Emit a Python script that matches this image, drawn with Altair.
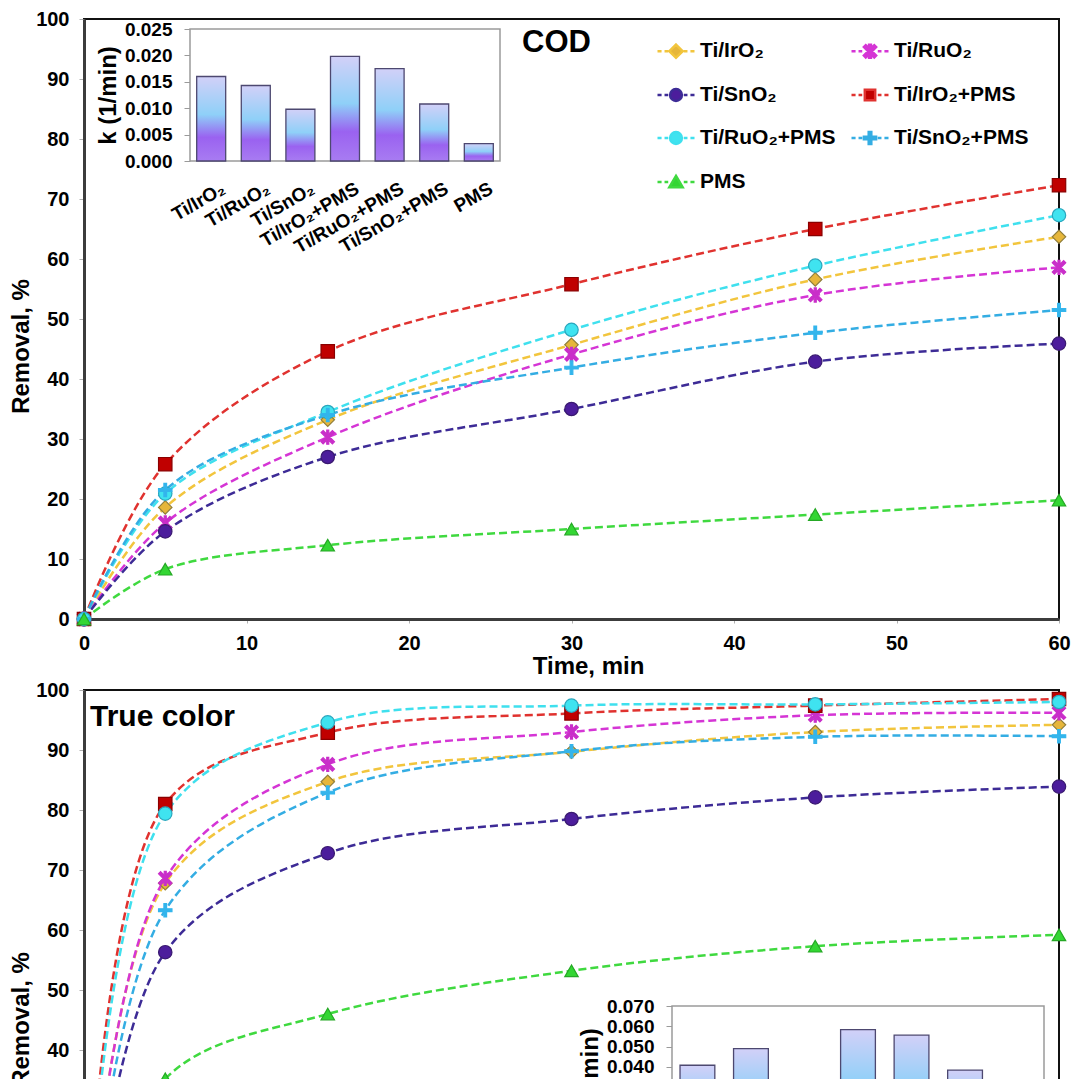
import altair as alt
import pandas as pd

FONT = "Liberation Sans"

times = [0, 5, 15, 30, 45, 60]
series_names = ["Ti/IrO₂", "Ti/RuO₂", "Ti/SnO₂", "Ti/IrO₂+PMS",
                "Ti/RuO₂+PMS", "Ti/SnO₂+PMS", "PMS"]

# COD removal, %
cod_iro2 = [0, 18.6, 33.2, 45.7, 56.6, 63.7]
cod_ruo2 = [0, 16.0, 30.3, 44.1, 54.0, 58.6]
cod_sno2 = [0, 14.6, 27.0, 35.0, 42.9, 45.9]
cod_iro2_pms = [0, 25.8, 44.6, 55.8, 65.0, 72.3]
cod_ruo2_pms = [0, 20.9, 34.5, 48.2, 58.9, 67.3]
cod_sno2_pms = [0, 21.5, 34.0, 41.9, 47.7, 51.5]
cod_pms = [0, 8.3, 12.3, 15.0, 17.4, 19.8]

# True colour removal, %
tc_iro2 = [0, 67.8, 84.7, 89.7, 93.0, 94.2]
tc_ruo2 = [0, 68.6, 87.6, 93.0, 95.8, 96.2]
tc_sno2 = [0, 56.3, 72.8, 78.5, 82.1, 83.9]
tc_iro2_pms = [0, 81.0, 92.9, 96.1, 97.4, 98.5]
tc_ruo2_pms = [0, 79.4, 94.6, 97.4, 97.6, 98.0]
tc_sno2_pms = [0, 63.3, 82.9, 89.8, 92.2, 92.3]
tc_pms = [0, 35.2, 46.0, 53.2, 57.3, 59.2]

# rate constants k (1/min)
k_cod = [0.0160, 0.0143, 0.0098, 0.0198, 0.0175, 0.0108, 0.0033]
k_color = [0.0408, 0.0490, 0.0260, 0.0584, 0.0556, 0.0384, 0.0090]

line_colors = ["#f2c53d", "#d535d5", "#3d2b96", "#e0322f", "#3fe0ee", "#34ade3", "#3fd93f"]
marker_fill = ["#e6b63a", "#c92ec9", "#4c1d9c", "#c00000", "#3fe3f0", "#33b5ec", "#33d633"]
marker_edge = ["#8f7d3a", "#c92ec9", "#3a1a70", "#8a0000", "#2aa6bd", "#33b5ec", "#25a825"]

plot_shapes = [
    "M0,-1L1,0L0,1L-1,0Z",
    "M-0.69,-1L1,0.69L0.69,1L-1,-0.69ZM1,-0.69L-0.69,1L-1,0.69L0.69,-1ZM-0.15,-1.05H0.15V1.05H-0.15Z",
    "circle",
    "square",
    "circle",
    "M-0.2,-1H0.2V-0.2H1V0.2H0.2V1H-0.2V0.2H-1V-0.2H-0.2Z",
    "triangle-up",
]
DASH = "M-1,0H-0.78M-0.62,0H-0.42M0.42,0H0.62M0.78,0H1"
legend_shapes = [
    DASH + "M0,-0.36L0.36,0L0,0.36L-0.36,0Z",
    DASH + "M-0.23,-0.33L0.33,0.23L0.23,0.33L-0.33,-0.23ZM0.33,-0.23L-0.23,0.33L-0.33,0.23L0.23,-0.33ZM-0.05,-0.35H0.05V0.35H-0.05Z",
    DASH + "M-0.32,0A0.32,0.32,0,1,0,0.32,0A0.32,0.32,0,1,0,-0.32,0Z",
    DASH + "M-0.28,-0.28H0.28V0.28H-0.28Z",
    DASH + "M-0.32,0A0.32,0.32,0,1,0,0.32,0A0.32,0.32,0,1,0,-0.32,0Z",
    DASH + "M-0.07,-0.33H0.07V-0.07H0.33V0.07H0.07V0.33H-0.07V0.07H-0.33V-0.07H-0.07Z",
    DASH + "M0,-0.33L0.36,0.28H-0.36Z",
]
# legend fills column by column: reorder so it reads row by row as in the figure
legend_order = [0, 2, 4, 6, 1, 3, 5]

bar_gradient = alt.Gradient(
    gradient="linear",
    stops=[alt.GradientStop(color="#d2d0f8", offset=0),
           alt.GradientStop(color="#8fd0f8", offset=0.45),
           alt.GradientStop(color="#9a62f0", offset=0.72),
           alt.GradientStop(color="#a87cf2", offset=1)],
    x1=0, x2=0, y1=0, y2=1,
)


def long_df(lists):
    rows = []
    for name, vals in zip(series_names, lists):
        for t, v in zip(times, vals):
            rows.append({"series": name, "time": t, "removal": v})
    return pd.DataFrame(rows)


def pick(seq):
    return [seq[i] for i in legend_order]


def panel(df, kvals, W, H, ytitle_pos, label, label_pos, label_size,
          inset, k_max, k_step, show_legend):
    xs = alt.Scale(domain=[0, 60], nice=False)
    ys = alt.Scale(domain=[0, 100], nice=False)
    xaxis = alt.Axis(values=[0, 10, 20, 30, 40, 50, 60], title="Time, min",
                     titleFontSize=24, titleX=W * 0.517, titleY=47, titleBaseline="middle",
                     labelFontSize=20, labelPadding=10, tickSize=4, tickColor="#b0b0b0",
                     domainColor="#3c3c3c", domainWidth=3, labelFlush=False)
    yaxis = alt.Axis(values=list(range(0, 101, 10)), title="Removal, %",
                     titleFontSize=24, titleY=ytitle_pos, titlePadding=2,
                     labelFontSize=20, labelPadding=10, tickSize=5, tickColor="#b0b0b0",
                     domainColor="#3c3c3c", domainWidth=3)
    base = alt.Chart(df)
    lines = base.mark_line(interpolate="catmull-rom", strokeDash=[8, 4], strokeWidth=2.5).encode(
        x=alt.X("time:Q", scale=xs, axis=xaxis),
        y=alt.Y("removal:Q", scale=ys, axis=yaxis),
        color=alt.Color("series:N", scale=alt.Scale(domain=series_names, range=line_colors), legend=None),
        detail="series:N",
    )
    points = base.mark_point(filled=True, size=180, strokeWidth=1.2, opacity=1).encode(
        x=alt.X("time:Q", scale=xs),
        y=alt.Y("removal:Q", scale=ys),
        color=alt.Color("series:N", scale=alt.Scale(domain=series_names, range=marker_fill), legend=None),
        stroke=alt.Stroke("series:N", scale=alt.Scale(domain=series_names, range=marker_edge), legend=None),
        shape=alt.Shape("series:N", scale=alt.Scale(domain=series_names, range=plot_shapes), legend=None),
    )
    layers = [lines, points]
    if show_legend:
        leg = alt.Legend(title=None, orient="none", legendX=572, legendY=12, columns=2,
                         columnPadding=10, rowPadding=12, symbolSize=1369, padding=0,
                         labelFont=FONT, labelFontWeight="bold", labelFontSize=21,
                         labelColor="#000", labelOffset=4, symbolStrokeWidth=2.5,
                         labelLimit=300)
        dom = pick(series_names)
        legend_layer = base.transform_filter("false").mark_point(filled=True, opacity=1).encode(
            x=alt.X("time:Q", scale=xs),
            y=alt.Y("removal:Q", scale=ys),
            color=alt.Color("series:N", scale=alt.Scale(domain=dom, range=pick(marker_fill)), legend=leg),
            stroke=alt.Stroke("series:N", scale=alt.Scale(domain=dom, range=pick(line_colors)), legend=leg),
            shape=alt.Shape("series:N", scale=alt.Scale(domain=dom, range=pick(legend_shapes)), legend=leg),
        )
        layers.append(legend_layer)
    main = alt.layer(*layers).resolve_scale(color="independent", stroke="independent",
                                            shape="independent")

    text = alt.Chart(pd.DataFrame({"label": [label]})).mark_text(
        font=FONT, fontWeight="bold", fontSize=label_size, align="left", baseline="middle",
        color="#000").encode(text="label:N", x=alt.value(label_pos[0]), y=alt.value(label_pos[1]))

    x0, x1, y0, y1 = inset
    frame = alt.Chart(pd.DataFrame({"a": [0]})).mark_rect(
        fill="white", stroke="#9a9a9a", strokeWidth=1.5).encode(
        x=alt.value(x0), x2=alt.value(x1), y=alt.value(y0), y2=alt.value(y1))

    kdf = pd.DataFrame({"electrode": series_names, "k": kvals})
    nt = int(round(k_max / k_step))
    bars = alt.Chart(kdf).mark_bar(fill=bar_gradient, stroke="#4d4870", strokeWidth=1.3).encode(
        x=alt.X("electrode:N", sort=series_names,
                scale=alt.Scale(range=[x0, x1], paddingInner=0.35, paddingOuter=0.15),
                axis=alt.Axis(orient="bottom", offset=-(H - y1), title=None, labelAngle=330,
                              labelFontSize=19, labelPadding=18, labelOffset=8, ticks=False,
                              domain=False, labelLimit=300)),
        y=alt.Y("k:Q", scale=alt.Scale(domain=[0, k_max], range=[y1, y0], nice=False),
                axis=alt.Axis(orient="left", offset=-x0, title="k (1/min)", format=".3f",
                              values=[round(i * k_step, 4) for i in range(nt + 1)],
                              titleFontSize=24, labelFontSize=19, labelPadding=12,
                              tickSize=6, tickColor="#9a9a9a", domain=False, titlePadding=4)),
    )
    return alt.layer(main, frame, bars, text).resolve_scale(
        x="independent", y="independent").properties(width=W, height=H)


top = panel(long_df([cod_iro2, cod_ruo2, cod_sno2, cod_iro2_pms, cod_ruo2_pms, cod_sno2_pms, cod_pms]),
            k_cod, 975, 600, 327, "COD", (438, 24), 31,
            (106, 416, 10, 142), 0.025, 0.005, True)
bottom = panel(long_df([tc_iro2, tc_ruo2, tc_sno2, tc_iro2_pms, tc_ruo2_pms, tc_sno2_pms, tc_pms]),
               k_color, 975, 600, 329, "True color", (6, 27), 30,
               (588, 960, 316, 458), 0.07, 0.01, False)

chart = alt.vconcat(top, bottom, spacing=0).properties(
    padding={"left": 0, "top": 0, "right": 0, "bottom": 0}
).configure(font=FONT).configure_view(stroke="#111", strokeWidth=2).configure_axis(
    grid=False, labelColor="#000", titleColor="#000", labelFont=FONT, titleFont=FONT,
    labelFontWeight="bold", titleFontWeight="bold")

chart.save("out.html", embed_options={"renderer": "svg", "actions": False})
